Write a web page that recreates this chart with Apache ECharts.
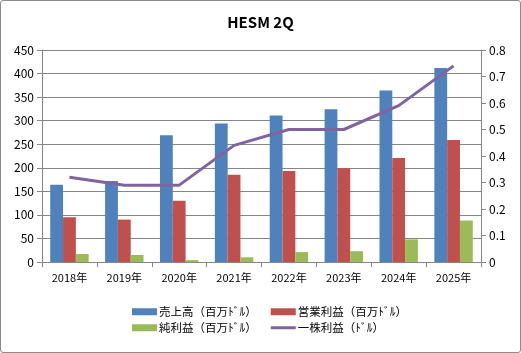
<!DOCTYPE html>
<html>
<head>
<meta charset="utf-8">
<script src="https://cdn.jsdelivr.net/npm/echarts@6/dist/echarts.min.js"></script>
<style>
  html, body { margin: 0; padding: 0; background: #fff; }
  #main { width: 521px; height: 353px; box-sizing: border-box; border: 1px solid #8c8c8c; border-radius: 3px; }
</style>
</head>
<body>
<div id="main"></div>
<script>
  // 決算データ（2Q）
  var years = ["2018年", "2019年", "2020年", "2021年", "2022年", "2023年", "2024年", "2025年"];
  var sales = [164, 172, 269, 294, 311, 324, 364, 412];
  var opProfit = [95, 90, 130, 185, 193, 199, 221, 259];
  var netProfit = [17, 15, 4, 10, 21, 23, 48, 88];
  var eps = [0.32, 0.29, 0.29, 0.44, 0.50, 0.50, 0.59, 0.74];
  var names = ["売上高（百万ﾄﾞﾙ）", "営業利益（百万ﾄﾞﾙ）", "純利益（百万ﾄﾞﾙ）", "一株利益（ﾄﾞﾙ）"];

  var font = "'Noto Sans CJK JP', sans-serif";
  var myChart = echarts.init(document.getElementById("main"));
  var lineIcon = "path://M0,0 L50,0 L50,6 L0,6 Z";
  var legendBase = {
    left: 126,
    itemWidth: 25, itemHeight: 7, itemGap: 14,
    textStyle: { fontSize: 11.5, color: "#000", padding: [0, 0, 0, -3] }
  };
  var option = {
    animation: false,
    textStyle: { fontFamily: font },
    title: {
      text: "HESM 2Q",
      left: "center",
      top: 9,
      textStyle: { fontSize: 15, fontWeight: "bold", color: "#000", fontFamily: font }
    },
    grid: { left: 41, right: 39, top: 49, bottom: 90 },
    legend: [
      Object.assign({}, legendBase, {
        top: 300,
        data: [{ name: names[0], icon: "rect" }, { name: names[1], icon: "rect" }]
      }),
      Object.assign({}, legendBase, {
        top: 316,
        data: [{ name: names[2], icon: "rect" }, { name: names[3], icon: lineIcon, itemStyle: { color: "#8064A2" } }]
      })
    ],
    xAxis: {
      type: "category",
      data: years,
      axisLine: { lineStyle: { color: "#868686" } },
      axisTick: { show: true, alignWithLabel: false, lineStyle: { color: "#868686" } },
      axisLabel: { color: "#000", fontSize: 11, margin: 10 }
    },
    yAxis: [
      {
        type: "value", min: 0, max: 450, interval: 50,
        axisLine: { show: true, lineStyle: { color: "#868686" } },
        axisTick: { show: true, lineStyle: { color: "#868686" } },
        axisLabel: { color: "#000", fontSize: 12, margin: 8 },
        splitLine: { lineStyle: { color: "#868686" } }
      },
      {
        type: "value", min: 0, max: 0.8, interval: 0.1,
        axisLine: { show: true, lineStyle: { color: "#868686" } },
        axisTick: { show: true, lineStyle: { color: "#868686" } },
        axisLabel: { color: "#000", fontSize: 12, margin: 8 },
        splitLine: { show: false }
      }
    ],
    series: [
      { name: names[0], type: "bar", data: sales, itemStyle: { color: "#4F81BD" }, barGap: "0%", barCategoryGap: "30%" },
      { name: names[1], type: "bar", data: opProfit, itemStyle: { color: "#C0504D" } },
      { name: names[2], type: "bar", data: netProfit, itemStyle: { color: "#9BBB59" } },
      {
        name: names[3], type: "line", yAxisIndex: 1, data: eps,
        symbol: "none",
        lineStyle: { color: "#8064A2", width: 3 },
        itemStyle: { color: "#8064A2" }
      }
    ]
  };
  myChart.setOption(option);
</script>
</body>
</html>
